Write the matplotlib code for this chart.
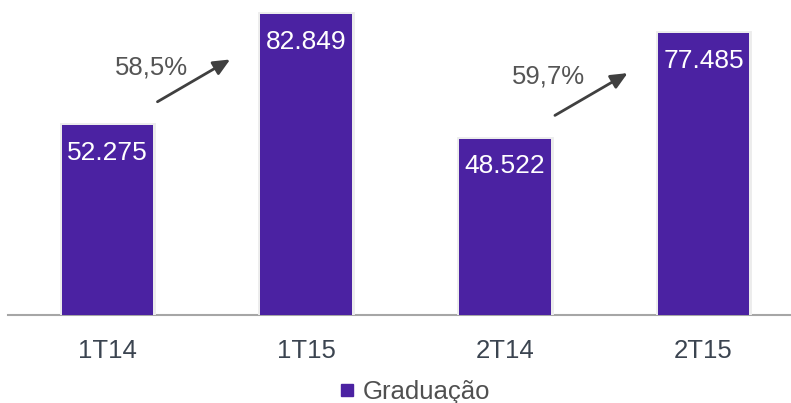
import matplotlib.pyplot as plt
import matplotlib.patheffects as pe
from matplotlib.lines import Line2D

plt.rcParams['font.family'] = ['Liberation Sans', 'DejaVu Sans']

# Data
periods = ['1T14', '1T15', '2T14', '2T15']
graduacao = [52275, 82849, 48522, 77485]
series_name = 'Graduação'

bar_color = '#4b22a2'


def fmt_thousands(v):
    return f'{v:,}'.replace(',', '.')


fig = plt.figure(figsize=(7.91, 4.03), dpi=100)
ax = fig.add_axes([8 / 791, 88 / 403, 783 / 791, 315 / 403])

x = range(len(periods))
bars = ax.bar(x, graduacao, width=0.46, color=bar_color, zorder=3)
for b in bars:
    b.set_path_effects([pe.withStroke(linewidth=3.5, foreground='#ececec'), pe.Normal()])

# Value labels inside the top of each bar
for xi, v in zip(x, graduacao):
    ax.annotate(fmt_thousands(v), (xi, v), xytext=(0, -20), textcoords='offset points',
                ha='center', va='center', color='white', fontsize=19, zorder=4)

# Growth arrows between each pair of years
for i in (0, 2):
    growth = (graduacao[i + 1] / graduacao[i] - 1) * 100
    ax.annotate('', xy=(i + 0.63, graduacao[i] + 18400), xytext=(i + 0.24, graduacao[i] + 6000),
                arrowprops=dict(arrowstyle='-|>,head_length=1.0,head_width=0.45',
                                color='#404040', lw=2))
    ax.text(i + 0.22, graduacao[i] + 15700 + (i == 2) * 1500,
            f'{growth:.1f}%'.replace('.', ','), ha='center', va='center',
            fontsize=18.5, color='#555555')

ax.set_xlim(-0.5, 3.44)
ax.set_ylim(0, 86650)
ax.set_xticks(list(x))
ax.set_xticklabels(periods, fontsize=18.5, color='#3b4450')
ax.tick_params(axis='x', length=0, pad=17)
ax.set_yticks([])
for s in ['top', 'left', 'right']:
    ax.spines[s].set_visible(False)
ax.spines['bottom'].set_color('#a6a6a6')
ax.spines['bottom'].set_linewidth(1.5)

handle = Line2D([], [], marker='s', linestyle='none', color=bar_color, markersize=8)
fig.legend([handle], [series_name], loc='center', bbox_to_anchor=(415 / 791, 1 - 392 / 403),
           frameon=False, fontsize=18.5, handlelength=0.6, handletextpad=0.3,
           labelcolor='#505050')

fig.savefig('out.png', dpi=100)
